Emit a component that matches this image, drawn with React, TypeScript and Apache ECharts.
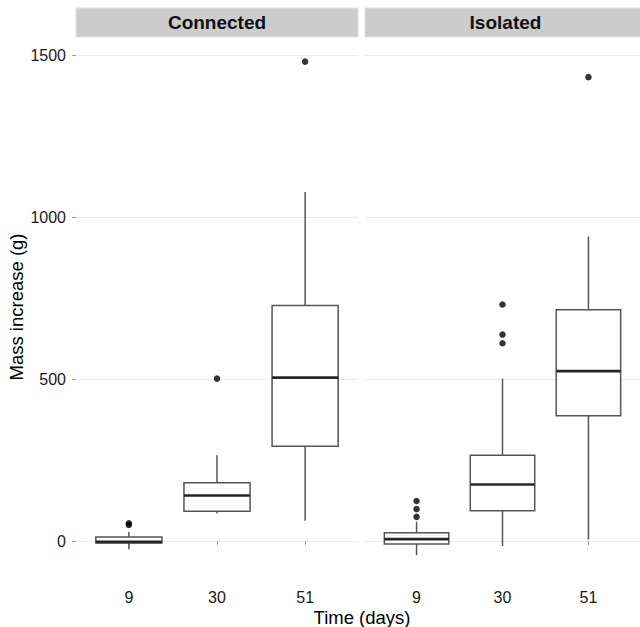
import React, { useEffect, useRef } from 'react';
import * as echarts from 'echarts';

const categories = ['9', '30', '51'];
const positions = [1, 2, 3];
const facets = ['Connected', 'Isolated'];
const yTicks = [0, 500, 1000, 1500];

// [min whisker, Q1, median, Q3, max whisker]
const connectedStats = [
  [-25, -6, -2, 13, 28],
  [85, 92, 141, 180, 265],
  [63, 293, 505, 728, 1078],
];
const isolatedStats = [
  [-43, -9, 6, 26, 60],
  [-15, 94, 175, 265, 502],
  [5, 387, 525, 715, 941],
];
// [position, value]
const connectedOutliers = [
  [1, 50], [1, 55], [2, 502], [3, 1481],
];
const isolatedOutliers = [
  [1, 75], [1, 99], [1, 124], [2, 611], [2, 638], [2, 731], [3, 1433],
];

const FONT = 'Liberation Sans, Arial, sans-serif';

const renderBox = (params: any, api: any) => {
  const x = api.value(0);
  const vals = [1, 2, 3, 4, 5].map((i) => api.value(i));
  const w = api.size([0.75, 0])[0];
  const pts = vals.map((v) => api.coord([x, v]));
  const [lo, q1, med, q3, hi] = pts;
  const cx = lo[0];
  const stroke = '#555555';
  return {
    type: 'group',
    children: [
      { type: 'line', shape: { x1: cx, y1: q3[1], x2: cx, y2: hi[1] }, style: { stroke, lineWidth: 1.5 } },
      { type: 'line', shape: { x1: cx, y1: lo[1], x2: cx, y2: q1[1] }, style: { stroke, lineWidth: 1.5 } },
      {
        type: 'rect',
        shape: { x: cx - w / 2, y: q3[1], width: w, height: q1[1] - q3[1] },
        style: { fill: '#ffffff', stroke, lineWidth: 1.5 },
      },
      {
        type: 'line',
        shape: { x1: cx - w / 2, y1: med[1], x2: cx + w / 2, y2: med[1] },
        style: { stroke: '#262626', lineWidth: 2.7 },
      },
    ],
  };
};

export default function App() {
  const ref = useRef<HTMLDivElement>(null);
  useEffect(() => {
    if (!ref.current) return;
    const chart = echarts.init(ref.current, null, { renderer: 'svg' });
    const grids = [
      { left: 76, width: 282, top: 37, height: 543 },
      { left: 365, width: 281, top: 37, height: 543 },
    ];
    const statsList = [connectedStats, isolatedStats];
    const outList = [connectedOutliers, isolatedOutliers];

    const xAxes = grids.map((_, gi) => ({
      type: 'value',
      gridIndex: gi,
      min: 0.4,
      max: 3.6,
      axisLine: { show: false },
      splitLine: { show: false },
      axisTick: { show: true, length: 4, customValues: positions, lineStyle: { color: '#9a9a9a', width: 1 } },
      axisLabel: {
        show: true,
        customValues: positions,
        margin: 9,
        fontSize: 16,
        fontFamily: FONT,
        color: '#1a1a1a',
        formatter: (v: number) => categories[Math.round(v) - 1] ?? '',
      },
    }));
    const yAxes = grids.map((_, gi) => ({
      type: 'value',
      gridIndex: gi,
      min: -120,
      max: 1557,
      axisLine: { show: false },
      splitLine: { show: true, lineStyle: { color: '#ebebeb', width: 1 } },
      axisTick: { show: gi === 0, length: 4, customValues: yTicks, lineStyle: { color: '#9a9a9a', width: 1 } },
      axisLabel: {
        show: gi === 0,
        customValues: yTicks,
        margin: 10,
        fontSize: 16,
        fontFamily: FONT,
        color: '#1a1a1a',
        formatter: (v: number) => String(v),
      },
    }));

    const series: any[] = [];
    statsList.forEach((stats, gi) => {
      series.push({
        type: 'custom',
        xAxisIndex: gi,
        yAxisIndex: gi,
        renderItem: renderBox,
        encode: { x: 0, y: [1, 2, 3, 4, 5] },
        data: positions.map((p, i) => [p, ...stats[i]]),
        silent: true,
      });
      series.push({
        type: 'scatter',
        xAxisIndex: gi,
        yAxisIndex: gi,
        symbol: 'circle',
        symbolSize: 6.5,
        itemStyle: { color: '#000000' },
        data: outList[gi],
        silent: true,
      });
    });

    const graphic: any[] = [];
    grids.forEach((g, gi) => {
      graphic.push({
        type: 'rect',
        shape: { x: g.left, y: 8, width: g.width, height: 29 },
        style: { fill: '#cccccc', stroke: '#e0e0e0', lineWidth: 1 },
        silent: true,
      });
      graphic.push({
        type: 'text',
        x: g.left + g.width / 2,
        y: 22.5,
        style: {
          text: facets[gi],
          fontSize: 19,
          fontWeight: 'bold',
          fontFamily: FONT,
          fill: '#111111',
          align: 'center',
          verticalAlign: 'middle',
        },
        silent: true,
      });
    });
    graphic.push({
      type: 'text',
      x: 362,
      y: 617,
      style: {
        text: 'Time (days)',
        fontSize: 18.5,
        fontFamily: FONT,
        fill: '#000000',
        align: 'center',
        verticalAlign: 'middle',
      },
      silent: true,
    });
    graphic.push({
      type: 'text',
      x: 16,
      y: 307,
      rotation: Math.PI / 2,
      style: {
        text: 'Mass increase (g)',
        fontSize: 18.5,
        fontFamily: FONT,
        fill: '#000000',
        align: 'center',
        verticalAlign: 'middle',
      },
      silent: true,
    });

    chart.setOption({
      animation: false,
      backgroundColor: '#ffffff',
      grid: grids,
      xAxis: xAxes,
      yAxis: yAxes,
      series,
      graphic,
    });
    return () => chart.dispose();
  }, []);
  return (
    <div
      ref={ref}
      style={{ position: 'absolute', left: 0, top: 0, width: 640, height: 627 }}
    />
  );
}
